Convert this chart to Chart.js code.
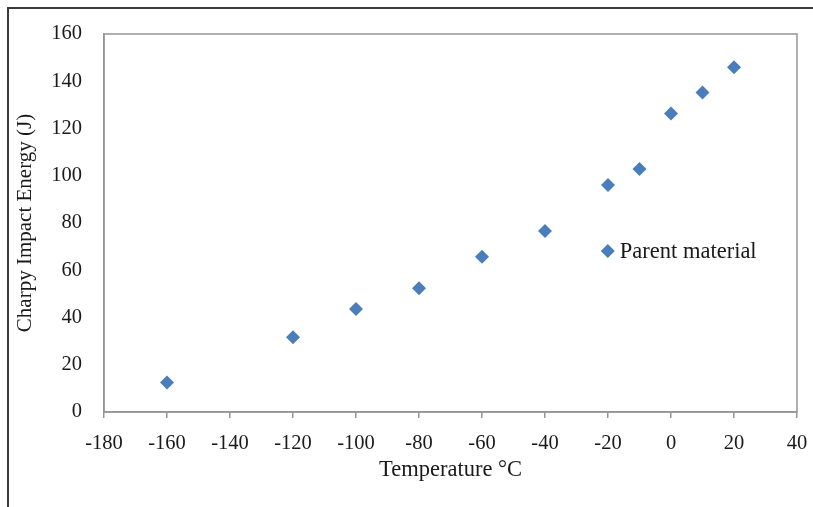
<!DOCTYPE html>
<html>
<head>
<meta charset="utf-8">
<script src="https://cdn.jsdelivr.net/npm/chart.js@4.4.1/dist/chart.umd.min.js"></script>
<style>
  html, body { margin: 0; padding: 0; background: #fff; }
  #wrap { position: relative; width: 813px; height: 507px; }
  #frame { position: absolute; left: 7px; top: 7px; right: 0; bottom: 0; border-top: 2px solid #3a3a3a; border-left: 2px solid #3a3a3a; pointer-events: none; }
</style>
</head>
<body>
<div id="wrap">
  <canvas id="chart" width="813" height="507"></canvas>
  <div id="frame"></div>
</div>
<script>
// data
const temperature = [-160, -120, -100, -80, -60, -40, -20, -10, 0, 10, 20];
const impactEnergy = [12.5, 31.6, 43.6, 52.4, 65.7, 76.6, 96.1, 102.9, 126.4, 135.2, 145.9];
const seriesName = 'Parent material';
const xTicks = [-180, -160, -140, -120, -100, -80, -60, -40, -20, 0, 20, 40];
const yTicks = [0, 20, 40, 60, 80, 100, 120, 140, 160];

const serif = "'Liberation Serif', 'Times New Roman', serif";
const blue = '#4a7ebb';
const axisGray = '#959595';

// frame round the plot area + legend inside it
const plotDecor = {
  id: 'plotDecor',
  afterDraw(chart) {
    const { ctx, chartArea: a } = chart;
    ctx.save();
    ctx.strokeStyle = axisGray;
    ctx.lineWidth = 1.5;
    ctx.strokeRect(a.left, a.top, a.right - a.left, a.bottom - a.top);

    // legend, sat on the right of the plot
    const lx = a.left + (a.right - a.left) * 0.727;
    const ly = a.top + (a.bottom - a.top) * 0.574;
    ctx.fillStyle = blue;
    ctx.beginPath();
    ctx.moveTo(lx, ly - 7);
    ctx.lineTo(lx + 7, ly);
    ctx.lineTo(lx, ly + 7);
    ctx.lineTo(lx - 7, ly);
    ctx.closePath();
    ctx.fill();
    ctx.fillStyle = '#1a1a1a';
    ctx.font = '22.5px ' + serif;
    ctx.textBaseline = 'middle';
    ctx.fillText(chart.data.datasets[0].label, lx + 12, ly + 1);
    ctx.restore();
  }
};

new Chart(document.getElementById('chart'), {
  type: 'scatter',
  data: {
    datasets: [{
      label: seriesName,
      data: temperature.map((t, i) => ({ x: t, y: impactEnergy[i] })),
      backgroundColor: blue,
      borderColor: blue,
      borderWidth: 0,
      pointStyle: 'rectRot',
      pointRadius: 7,
      pointHoverRadius: 7
    }]
  },
  options: {
    responsive: false,
    animation: false,
    devicePixelRatio: 1,
    layout: { padding: { top: 34, right: 16, left: 0, bottom: 0 } },
    plugins: { legend: { display: false }, tooltip: { enabled: false } },
    scales: {
      x: {
        type: 'linear',
        min: -180,
        max: 40,
        afterBuildTicks: s => { s.ticks = xTicks.map(v => ({ value: v })); },
        afterFit: s => { s.height = 95; s.paddingLeft = 0; s.paddingRight = 0; },
        grid: { drawOnChartArea: false, drawTicks: true, tickLength: 6, color: axisGray, lineWidth: 1.5 },
        border: { color: axisGray, width: 1.5 },
        ticks: { color: '#1a1a1a', font: { family: serif, size: 20.5 }, padding: 13, maxRotation: 0 },
        title: { display: true, text: 'Temperature °C', color: '#1a1a1a', font: { family: serif, size: 22.5 }, padding: { top: 0, bottom: 23 } }
      },
      y: {
        type: 'linear',
        min: 0,
        max: 160,
        afterBuildTicks: s => { s.ticks = yTicks.map(v => ({ value: v })); },
        afterFit: s => { s.width = 104; s.paddingTop = 0; s.paddingBottom = 0; },
        grid: { drawOnChartArea: false, drawTicks: false, tickLength: 0 },
        border: { color: axisGray, width: 1.5 },
        ticks: { color: '#1a1a1a', font: { family: serif, size: 20.5 }, padding: 22 },
        title: { display: true, text: 'Charpy Impact Energy (J)', color: '#1a1a1a', font: { family: serif, size: 21 }, padding: { top: 13, bottom: 0 } }
      }
    }
  },
  plugins: [plotDecor]
});
</script>
</body>
</html>
